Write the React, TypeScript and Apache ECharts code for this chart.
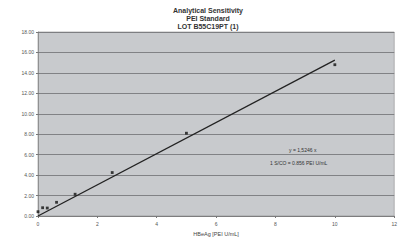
import React, { useEffect, useRef } from "react";
import * as echarts from "echarts";

const titleLines = ["Analytical Sensitivity", "PEI Standard", "LOT B55C19PT (1)"];
const xName = "HBeAg [PEI U/mL]";
const concentrations = [0, 0.156, 0.3125, 0.625, 1.25, 2.5, 5, 10];
const signals = [0.42, 0.81, 0.78, 1.34, 2.13, 4.25, 8.1, 14.8];
const slope = 1.5246;
const trendX = [0, 10];
const equationText = "y = 1,5246 x";
const cutoffText = "1 S/CO = 0.856 PEI U/mL";

export default function App() {
  const ref = useRef<HTMLDivElement>(null);
  useEffect(() => {
    const chart = echarts.init(ref.current!, null, { renderer: "svg" });
    const font = "'Liberation Sans', Arial, sans-serif";
    chart.setOption({
      animation: false,
      backgroundColor: "#ffffff",
      grid: {
        left: 38,
        right: 1,
        top: 32,
        bottom: 26,
        show: true,
        backgroundColor: "#c8cacd",
        borderColor: "#8a8a8a",
        borderWidth: 0.6,
      },
      xAxis: {
        type: "value",
        min: 0,
        max: 12,
        interval: 2,
        name: xName,
        nameLocation: "middle",
        nameGap: 14,
        nameTextStyle: { fontSize: 5.5, color: "#444", fontFamily: font },
        axisLine: { show: true, lineStyle: { color: "#777", width: 0.6 } },
        axisTick: { show: true, length: 2, lineStyle: { color: "#777" } },
        axisLabel: { fontSize: 5, color: "#555", fontFamily: font, margin: 5 },
        splitLine: { show: false },
      },
      yAxis: {
        type: "value",
        min: 0,
        max: 18,
        interval: 2,
        axisLine: { show: true, lineStyle: { color: "#777", width: 0.6 } },
        axisTick: { show: true, length: 2, lineStyle: { color: "#777" } },
        axisLabel: {
          fontSize: 5,
          color: "#555",
          fontFamily: font,
          margin: 4,
          formatter: (v: number) => v.toFixed(2),
        },
        splitLine: { show: true, lineStyle: { color: "#6e7072", width: 0.8 } },
      },
      series: [
        {
          type: "line",
          data: trendX.map((x) => [x, slope * x]),
          symbol: "none",
          lineStyle: { color: "#222", width: 1.3 },
          z: 2,
        },
        {
          type: "scatter",
          data: concentrations.map((x, i) => [x, signals[i]]),
          symbol: "rect",
          symbolSize: 2.8,
          itemStyle: { color: "#111" },
          z: 3,
        },
      ],
      graphic: [
        ...titleLines.map((t, i) => ({
          type: "text",
          x: 208,
          y: 10 + i * 8,
          style: {
            text: t,
            fontSize: 7,
            fontWeight: "bold",
            fill: "#333",
            fontFamily: font,
            textAlign: "center",
            textVerticalAlign: "middle",
          },
        })),
        {
          type: "text",
          left: 289,
          top: 147,
          style: { text: equationText, fontSize: 5, fill: "#333", fontFamily: font },
        },
        {
          type: "text",
          left: 270,
          top: 160,
          style: { text: cutoffText, fontSize: 5, fill: "#333", fontFamily: font },
        },
      ],
    });
    return () => chart.dispose();
  }, []);
  return <div ref={ref} style={{ width: 400, height: 242, position: "absolute", left: 0, top: 0 }} />;
}
